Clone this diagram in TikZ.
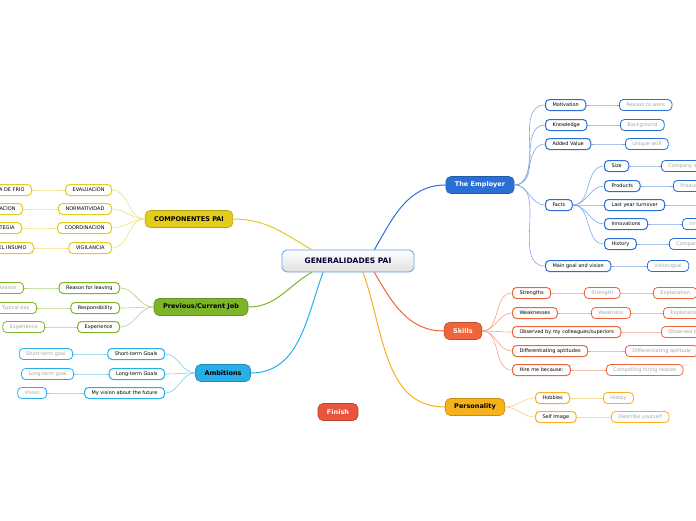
\documentclass[tikz,border=0pt]{standalone}
\usepackage{fontspec}
\setmainfont{DejaVu Sans}
\usetikzlibrary{positioning}
\definecolor{cemp}{HTML}{2A6FD6}
\definecolor{cski}{HTML}{F0643A}
\definecolor{cper}{HTML}{F6B21A}
\definecolor{cfin}{HTML}{E8553A}
\definecolor{camb}{HTML}{29AEE8}
\definecolor{cjob}{HTML}{7DB52A}
\definecolor{ccom}{HTML}{E3CC1C}
\tikzset{
x=1pt, y=-1pt,
topic/.style={draw=#1!80!black, fill=#1, rounded corners=5pt, line width=0.6pt, minimum height=17pt, inner xsep=9pt, font=\fontsize{6.5}{7}\selectfont\bfseries}, % main branches
sub/.style={draw=#1, fill=white, rounded corners=4pt, line width=1pt, minimum height=11pt, inner ysep=1pt, inner xsep=7pt, font=\fontsize{5}{5.5}\selectfont}, % second level
leaf/.style={sub=#1, line width=0.8pt, text=gray!70}, % third level
link/.style={draw=#1!60, line width=0.6pt},
}
\newcommand{\rlink}[3]{\draw[link=#3] (#1.east) to[out=0,in=180] (#2.west);}
\newcommand{\llink}[3]{\draw[link=#3] (#1.west) to[out=180,in=0] (#2.east);}
\begin{document}
\begin{tikzpicture}
\useasboundingbox (0,0) rectangle (696,520);
\clip (0,0) rectangle (696,520);
% center
\node[draw=cemp!70, line width=0.8pt, rounded corners=5pt, top color=white, bottom color=gray!25, minimum width=132pt, minimum height=22pt, font=\fontsize{7.5}{8}\selectfont\bfseries, text=black!80!blue] (gen) at (348,261) {GENERALIDADES PAI};
% main topics
\node[topic=cemp, text=white] (emp) at (480,185) {The Employer};
\node[topic=cski, text=white] (ski) at (463,331) {Skills};
\node[topic=cper] (per) at (475,407) {Personality};
\node[topic=cfin, text=white] (fin) at (338,412) {Finish};
\node[topic=camb] (amb) at (223,373) {Ambitions};
\node[topic=cjob] (job) at (201,307) {Previous/Current Job};
\node[topic=ccom] (com) at (189,219) {COMPONENTES PAI};
\draw[cemp, line width=1pt] (gen.north east) ++(-40,0) to[out=60,in=180] (emp.west);
\draw[cski, line width=1pt] (gen.south east) ++(-40,0) to[out=-60,in=180] (ski.west);
\draw[cper, line width=1pt] (gen.south) ++(15,0) to[out=-70,in=180] (per.west);
\draw[camb, line width=1pt] (gen.south) ++(-25,0) to[out=-110,in=0] (amb.east);
\draw[cjob, line width=1pt] (gen.south west) ++(30,0) to[out=-150,in=0] (job.east);
\draw[ccom, line width=1pt] (gen.north west) ++(30,0) to[out=150,in=0] (com.east);
% The Employer
\node[sub=cemp, anchor=west] (mot) at (545,105) {Motivation};
\node[sub=cemp, anchor=west] (kno) at (545,125) {Knowledge};
\node[sub=cemp, anchor=west] (add) at (545,144) {Added Value};
\node[sub=cemp, anchor=west] (fac) at (545,205) {Facts};
\node[sub=cemp, anchor=west] (goal) at (545,266) {Main goal and vision};
\node[leaf=cemp, anchor=west] (mot1) at (619,105) {Reason to work};
\node[leaf=cemp, anchor=west] (kno1) at (620,125) {Background};
\node[leaf=cemp, anchor=west] (add1) at (625,144) {Unique skill};
\node[leaf=cemp, anchor=west] (goal1) at (647,266) {Vision/goal};
\node[sub=cemp, anchor=west] (size) at (604,166) {Size};
\node[sub=cemp, anchor=west] (prod) at (604,186) {Products};
\node[sub=cemp, anchor=west] (turn) at (604,205) {Last year turnover};
\node[sub=cemp, anchor=west] (inno) at (604,224) {Innovations};
\node[sub=cemp, anchor=west] (hist) at (604,244) {History};
\node[leaf=cemp, anchor=west] (size1) at (661,166) {Company size};
\node[leaf=cemp, anchor=west] (prod1) at (673,186) {Products};
\node[leaf=cemp, anchor=west] (turn1) at (700,205) {Turnover};
\node[leaf=cemp, anchor=west] (inno1) at (682,224) {Innovations};
\node[leaf=cemp, anchor=west] (hist1) at (669,244) {Company history};
\foreach \a/\b in {emp/mot,emp/kno,emp/add,emp/fac,emp/goal,mot/mot1,kno/kno1,add/add1,goal/goal1,fac/size,fac/prod,fac/turn,fac/inno,fac/hist,size/size1,prod/prod1,turn/turn1,inno/inno1,hist/hist1}
  {\rlink{\a}{\b}{cemp}}
% Skills
\node[sub=cski, anchor=west] (str) at (512,293) {Strengths};
\node[sub=cski, anchor=west] (wea) at (512,313) {Weaknesses};
\node[sub=cski, anchor=west] (obs) at (512,332) {Observed by my colleagues/superiors};
\node[sub=cski, anchor=west] (dif) at (512,351) {Differentiating aptitudes};
\node[sub=cski, anchor=west] (hire) at (512,370) {Hire me because:};
\node[leaf=cski, anchor=west] (str1) at (584,293) {Strength};
\node[leaf=cski, anchor=west] (wea1) at (591,313) {Weakness};
\node[leaf=cski, anchor=west] (obs1) at (661,332) {Observed behaviour};
\node[leaf=cski, anchor=west] (dif1) at (625,351) {Differentiating aptitude};
\node[leaf=cski, anchor=west] (hire1) at (606,370) {Compelling hiring reason};
\node[leaf=cski, anchor=west] (str2) at (653,293) {Explanation};
\node[leaf=cski, anchor=west] (wea2) at (663,313) {Explanation};
\foreach \a/\b in {ski/str,ski/wea,ski/obs,ski/dif,ski/hire,str/str1,wea/wea1,obs/obs1,dif/dif1,hire/hire1,str1/str2,wea1/wea2}
  {\rlink{\a}{\b}{cski}}
% Personality
\node[sub=cper, anchor=west] (hob) at (535,398) {Hobbies};
\node[sub=cper, anchor=west] (self) at (535,417) {Self Image};
\node[leaf=cper, anchor=west] (hob1) at (603,398) {Hobby};
\node[leaf=cper, anchor=west] (self1) at (611,417) {Describe yourself};
\foreach \a/\b in {per/hob,per/self,hob/hob1,self/self1}
  {\rlink{\a}{\b}{cper}}
% COMPONENTES PAI
\node[sub=ccom, anchor=east] (eva) at (112,190) {EVALUACION};
\node[sub=ccom, anchor=east] (nor) at (112,209) {NORMATIVIDAD};
\node[sub=ccom, anchor=east] (coo) at (112,228) {COORDINACION};
\node[sub=ccom, anchor=east] (vig) at (112,248) {VIGILANCIA};
\node[sub=ccom, anchor=east] (eva1) at (32,190) {CADENA DE FRIO};
\node[sub=ccom, anchor=east] (nor1) at (23,209) {CAPACITACION};
\node[sub=ccom, anchor=east] (coo1) at (22,228) {ESTRATEGIA};
\node[sub=ccom, anchor=east] (vig1) at (34,248) {CALIDAD DEL INSUMO};
\foreach \a/\b in {com/eva,com/nor,com/coo,com/vig,eva/eva1,nor/nor1,coo/coo1,vig/vig1}
  {\llink{\a}{\b}{ccom}}
% Previous/Current Job
\node[sub=cjob, anchor=east] (rea) at (120,288) {Reason for leaving};
\node[sub=cjob, anchor=east] (res) at (120,308) {Responsibility};
\node[sub=cjob, anchor=east] (exp) at (120,327) {Experience};
\node[leaf=cjob, anchor=east] (rea1) at (24,288) {Reason};
\node[leaf=cjob, anchor=east] (res1) at (37,308) {Typical day};
\node[leaf=cjob, anchor=east] (exp1) at (45,327) {Experience};
\foreach \a/\b in {job/rea,job/res,job/exp,rea/rea1,res/res1,exp/exp1}
  {\llink{\a}{\b}{cjob}}
% Ambitions
\node[sub=camb, anchor=east] (sho) at (165,354) {Short-term Goals};
\node[sub=camb, anchor=east] (lon) at (165,374) {Long-term Goals};
\node[sub=camb, anchor=east] (vis) at (165,393) {My vision about the future};
\node[leaf=camb, anchor=east] (sho1) at (73,354) {Short-term goal};
\node[leaf=camb, anchor=east] (lon1) at (74,374) {Long-term goal};
\node[leaf=camb, anchor=east] (vis1) at (47,393) {Vision};
\foreach \a/\b in {amb/sho,amb/lon,amb/vis,sho/sho1,lon/lon1,vis/vis1}
  {\llink{\a}{\b}{camb}}
\end{tikzpicture}
\end{document}
